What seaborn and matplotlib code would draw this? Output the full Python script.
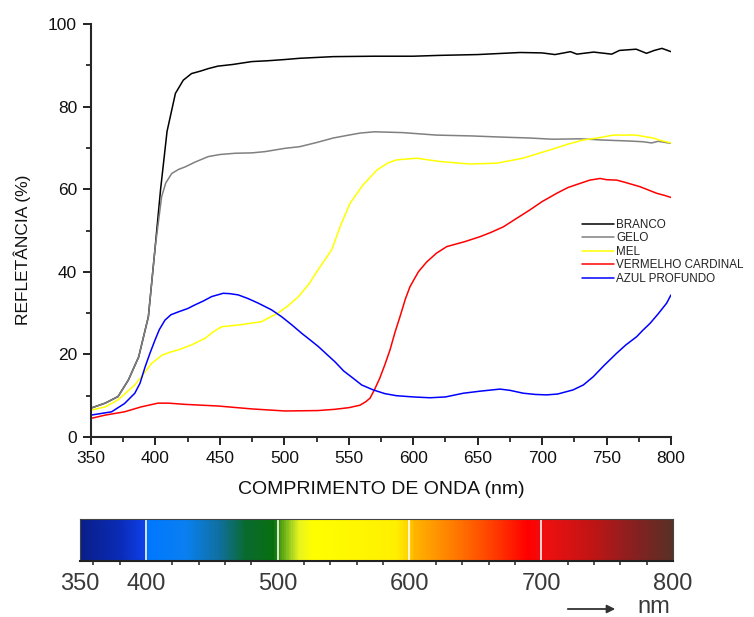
#!/usr/bin/env python3
"""Reflectance spectra of five paint colours, with a visible spectrum strip below."""

import matplotlib
matplotlib.use("Agg")

import matplotlib.pyplot as plt
from matplotlib.colors import LinearSegmentedColormap
from matplotlib.patches import FancyArrowPatch
from matplotlib.ticker import MultipleLocator
import numpy as np
import pandas as pd
import seaborn as sns


# --- data (wavelength in nm, reflectance in %) ---
branco_nm = [350, 361, 371, 379, 387, 394.5, 399.7, 404, 409, 415.5, 421.6, 428, 435, 441,
             448.5, 460, 474.7, 487, 500.5, 512, 538, 570, 600, 620, 650, 683, 700, 710,
             722, 727, 740, 754, 760, 773, 781, 787, 793, 800]
branco_ref = [7.0, 8.2, 9.8, 13.8, 19.4, 29.1, 45.7, 60.0, 74.0, 83.2, 86.4, 88.0, 88.6, 89.2,
              89.8, 90.2, 90.9, 91.1, 91.4, 91.7, 92.1, 92.2, 92.2, 92.4, 92.6, 93.1, 93.0, 92.6,
              93.3, 92.7, 93.2, 92.7, 93.6, 93.9, 92.9, 93.6, 94.1, 93.3]

gelo_nm = [350, 361, 371, 379, 387, 394.5, 399.7, 404.8, 408, 412.6, 418, 423, 431, 441, 450,
           461.7, 475, 485, 500.5, 512, 525, 538, 550, 559, 570, 592, 618, 645, 670, 690, 708,
           730, 747, 765, 778, 785, 790, 800]
gelo_ref = [7.0, 8.2, 9.8, 13.8, 19.4, 29.1, 45.7, 58.2, 61.5, 63.8, 64.8, 65.4, 66.6, 67.9, 68.4,
            68.7, 68.8, 69.1, 69.9, 70.3, 71.3, 72.4, 73.1, 73.6, 73.9, 73.7, 73.1, 72.9, 72.6, 72.4,
            72.1, 72.2, 71.9, 71.7, 71.5, 71.2, 71.6, 71.1]

mel_nm = [350, 361, 371, 384, 390, 397, 405, 411, 417.8, 428, 438.5, 445, 451.4, 464, 482, 495,
          503, 511, 519, 526, 536.7, 544, 551, 561, 571.7, 580, 587, 602.7, 620.8, 644, 664.8,
          685, 706, 720, 731.7, 745, 755, 773, 780, 786, 792, 800]
mel_ref = [6.5, 7.3, 9.0, 12.6, 15.0, 17.8, 19.8, 20.5, 21.1, 22.3, 23.9, 25.5, 26.7, 27.1, 27.9, 30.0,
           31.8, 34.0, 37.0, 40.4, 45.3, 51.5, 56.6, 61.0, 64.6, 66.3, 67.1, 67.5, 66.7, 66.1, 66.3,
           67.5, 69.5, 70.9, 71.9, 72.5, 73.1, 73.1, 72.7, 72.4, 71.8, 71.2]

vermelho_nm = [350, 361, 376, 389, 402, 410, 423, 448.8, 474.7, 500.5, 526, 539, 550, 558.7, 563,
               566.5, 570, 574, 578, 582, 586, 589.7, 594, 597.5, 604, 610.5, 618, 626, 640, 651.8,
               660, 670, 680, 690.6, 700, 711.3, 720, 729.4, 737, 745, 750, 757.9, 765, 776, 789,
               795, 800]
vermelho_ref = [4.5, 5.3, 6.1, 7.3, 8.2, 8.2, 7.9, 7.5, 6.8, 6.3, 6.4, 6.7, 7.1, 7.7, 8.5,
                9.4, 11.5, 14.2, 17.5, 21.1, 25.5, 29.1, 33.5, 36.4, 40.0, 42.4, 44.5, 46.1, 47.3, 48.5,
                49.5, 50.9, 52.9, 55.0, 57.0, 59.0, 60.4, 61.4, 62.2, 62.6, 62.3, 62.2, 61.6, 60.6, 59.0,
                58.5, 58.0]

azul_nm = [350, 366, 376, 384, 388, 392, 396, 399.7, 403, 407.4, 412, 417.8, 425, 430.7, 437,
           443.6, 452.6, 458, 464.3, 472, 479.8, 490, 498, 506, 513.5, 520, 526.4, 533, 539.3,
           546, 553.5, 560, 569, 578, 587, 600, 613, 625, 638.9, 652, 667.3, 675, 685.4, 695,
           703.5, 712, 724, 732, 739.7, 748, 757.9, 765, 773.4, 778, 783.7, 790, 796.6, 800]
azul_ref = [5.3, 6.1, 8.1, 10.6, 13.0, 17.0, 20.5, 23.5, 26.0, 28.3, 29.6, 30.3, 31.1, 32.0, 32.9,
            34.0, 34.8, 34.7, 34.4, 33.5, 32.4, 30.8, 29.1, 27.1, 25.1, 23.5, 21.9, 20.0, 18.2,
            16.0, 14.2, 12.6, 11.4, 10.5, 10.0, 9.7, 9.5, 9.7, 10.6, 11.1, 11.6, 11.3, 10.6, 10.3,
            10.2, 10.4, 11.4, 12.6, 14.6, 17.3, 20.3, 22.3, 24.3, 25.8, 27.5, 29.8, 32.4, 34.4]

series_names = ["BRANCO", "GELO", "MEL", "VERMELHO CARDINAL", "AZUL PROFUNDO"]
series_colors = ["#000000", "#808080", "#ffff00", "#ff0000", "#0000ff"]

x_ticks = [350, 400, 450, 500, 550, 600, 650, 700, 750, 800]
y_ticks = [0, 20, 40, 60, 80, 100]

# visible spectrum strip: colour stops and labels
strip_stops = [350, 380, 398, 401, 430, 455, 475, 497, 502, 508, 516, 526, 590, 600,
               604, 640, 670, 690, 705, 740, 770, 800]
strip_colors = ["#0a1f8a", "#0a2cb8", "#1040e8", "#0078ff", "#0a80f0", "#1070a0", "#0a6a30",
                "#087010", "#50a010", "#90c820", "#e8f420", "#ffff00", "#fff000", "#ffd000",
                "#ffb400", "#ff7000", "#ff3000", "#ff0000", "#ee1010", "#c01515", "#8a2020",
                "#5a3025"]
strip_ticks = [350, 400, 500, 600, 700, 800]
strip_dividers = [400, 500, 600, 700]


def main() -> None:
    sns.set_style("ticks")
    plt.rcParams["font.family"] = ["Liberation Sans", "DejaVu Sans"]

    fig = plt.figure(figsize=(7.54, 6.17), dpi=100)
    W, H = 754, 617

    ax = fig.add_axes([91 / W, 1 - 437 / H, (671 - 91) / W, (437 - 24) / H])
    wl_lists = [branco_nm, gelo_nm, mel_nm, vermelho_nm, azul_nm]
    ref_lists = [branco_ref, gelo_ref, mel_ref, vermelho_ref, azul_ref]
    for name, color, wl, ref in zip(series_names, series_colors, wl_lists, ref_lists):
        df = pd.DataFrame({"wl": wl, "ref": ref})
        sns.lineplot(data=df, x="wl", y="ref", ax=ax, color=color, linewidth=1.1, label=name)

    ax.set_xlim(350, 800)
    ax.set_ylim(0, 100)
    ax.set_xticks(x_ticks)
    ax.set_yticks(y_ticks)
    ax.xaxis.set_minor_locator(MultipleLocator(25))
    ax.yaxis.set_minor_locator(MultipleLocator(10))
    ax.tick_params(which="major", direction="out", length=6, width=1.3, labelsize=12.5,
                   colors="#111111", pad=4)
    ax.tick_params(which="minor", direction="out", length=3.5, width=1.3)
    for side in ("left", "bottom"):
        ax.spines[side].set_linewidth(1.5)
    sns.despine(ax=ax)
    ax.set_xlabel("COMPRIMENTO DE ONDA (nm)", fontsize=14, color="#111111")
    ax.set_ylabel("REFLETÂNCIA (%)", fontsize=12.5, color="#111111")
    ax.xaxis.set_label_coords(0.5, (437 - 481) / 413)
    ax.yaxis.set_label_coords((31 - 91) / 580, (437 - 250) / 413)

    ax.legend(loc="upper left", bbox_to_anchor=(582 / W, 1 - 219 / H),
              bbox_transform=fig.transFigure, frameon=False, fontsize=8.4,
              handlelength=2.7, handletextpad=0.25, labelspacing=0.12, borderpad=0,
              borderaxespad=0, labelcolor="#222222")

    # spectrum strip
    sx = fig.add_axes([80 / W, 1 - 561 / H, (673 - 80) / W, (561 - 519) / H])
    pos = [(s - 350) / 450 for s in strip_stops]
    cmap = LinearSegmentedColormap.from_list("spectro", list(zip(pos, strip_colors)))
    grad = np.linspace(350, 800, 900)[None, :]
    sx.imshow(grad, aspect="auto", cmap=cmap, extent=(350, 800, 0, 1), vmin=350, vmax=800)
    for d in strip_dividers:
        sx.axvline(d, color="white", linewidth=1.3, alpha=0.9)
    sx.set_xlim(350, 800)
    sx.set_ylim(0, 1)
    sx.set_yticks([])
    sx.set_xticks(strip_ticks)
    sx.xaxis.set_minor_locator(MultipleLocator(20))
    sx.tick_params(axis="x", which="major", length=0, labelsize=17, colors="#3a3a3a", pad=9)
    sx.tick_params(axis="x", which="minor", length=3, width=1.2, color="#333333")
    for side in ("top", "left", "right"):
        sx.spines[side].set_linewidth(0.8)
        sx.spines[side].set_color("#444444")
    sx.spines["bottom"].set_linewidth(1.5)
    sx.spines["bottom"].set_color("#222222")

    fig.add_artist(FancyArrowPatch(
        (565 / W, 1 - 609 / H), (618 / W, 1 - 609 / H), transform=fig.transFigure,
        arrowstyle="-|>", mutation_scale=12, color="#333333", linewidth=1.3))
    fig.text(637 / W, 1 - 607 / H, "nm", fontsize=17, color="#3a3a3a", va="center", ha="left")

    fig.savefig("out.png", dpi=100)
    plt.close(fig)


if __name__ == "__main__":
    main()
